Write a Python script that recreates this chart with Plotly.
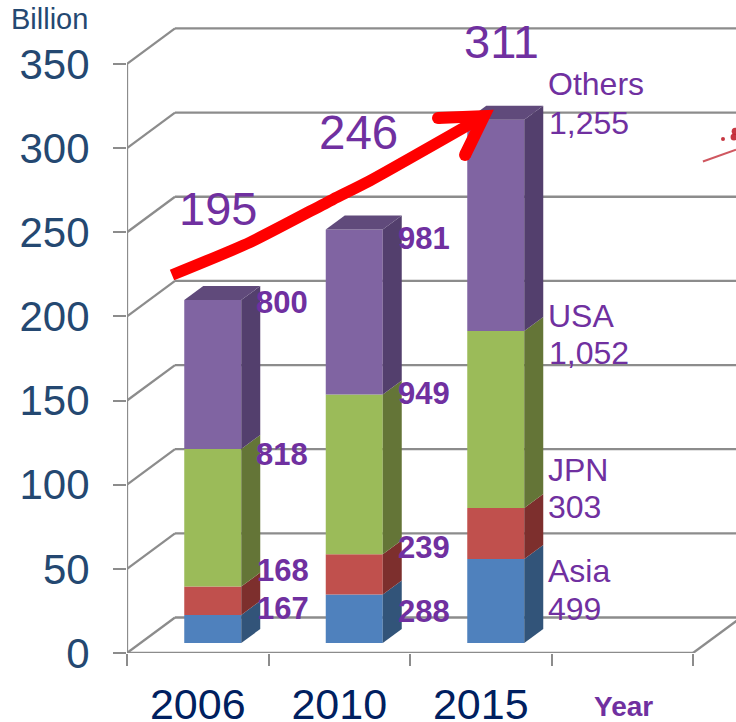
import plotly.graph_objects as go

# ---- data ----
years = ["2006", "2010", "2015"]
series_names = ["Asia", "JPN", "USA", "Others"]
asia = [16.7, 28.8, 49.9]
jpn = [16.8, 23.9, 30.3]
usa = [81.8, 94.9, 105.2]
others = [88.5, 98.1, 125.5]
totals = ["195", "246", "311"]
y_ticks = [0, 50, 100, 150, 200, 250, 300, 350]
front_colors = ["#4f81bd", "#c0504d", "#9bbb59", "#8064a2"]
side_colors = ["#325479", "#7d2f2d", "#647537", "#533f6d"]
top_color = "#604a7b"
# arrow, in axis units (slot, value)
arrow_x = [0.318, 0.869, 1.456, 1.703, 2.523]
arrow_y = [224.6, 244, 269.6, 280, 319]
head_x = [2.198, 2.523, 2.389]
head_y = [317.9, 319, 295.9]
tip_x = [2.587, 2.424, 2.48]
tip_y = [322.6, 321.5, 307.2]
# stray red smudge at the right edge
smudge_x = [4.07, 4.304]
smudge_y = [292, 299]
speck_x = [4.212, 4.29, 4.298]
speck_y = [305.4, 306.6, 310]

W, H = 736, 722
L, B = 127, 69
SLOT = 141.5
UNIT = 1.683
GRID = "#8c8c8c"
LW = 2.3
PURPLE = "#7030a0"
NAVY = "#244871"


def px(v):
    return v / SLOT


def py(v):
    return v / UNIT


wall_dx, wall_dy = px(48), py(35.5)
bar_dx, bar_dy = px(19), py(14)
bar_w = px(57)
centers = [i + 0.5 + px(15) for i in range(len(years))]
floor = py(10)

fig = go.Figure()
stack = [asia, jpn, usa, others]
bases = [floor] * len(years)
for s, vals in enumerate(stack):
    fig.add_trace(go.Bar(x=centers, y=vals, base=bases[:], width=bar_w,
                         marker=dict(color=front_colors[s], line=dict(width=0)),
                         hoverinfo="skip", name=series_names[s]))
    for i, c in enumerate(centers):
        xr = c + bar_w / 2
        b, t = bases[i], bases[i] + vals[i]
        fig.add_trace(go.Scatter(x=[xr, xr + bar_dx, xr + bar_dx, xr, xr],
                                 y=[b, b + bar_dy, t + bar_dy, t, b],
                                 mode="lines", fill="toself", fillcolor=side_colors[s],
                                 line=dict(width=0), hoverinfo="skip"))
        if s == len(stack) - 1:
            xl = c - bar_w / 2
            fig.add_trace(go.Scatter(x=[xl, xl + bar_dx, xr + bar_dx, xr, xl],
                                     y=[t, t + bar_dy, t + bar_dy, t, t],
                                     mode="lines", fill="toself", fillcolor=top_color,
                                     line=dict(width=0), hoverinfo="skip"))
    bases = [b + v for b, v in zip(bases, vals)]

# red growth arrow
RED = "#ff0000"
fig.add_trace(go.Scatter(x=arrow_x, y=arrow_y, mode="lines",
                         line=dict(color=RED, width=11.5, shape="spline", smoothing=0.6), hoverinfo="skip"))
fig.add_trace(go.Scatter(x=head_x, y=head_y, mode="lines+markers",
                         line=dict(color=RED, width=12),
                         marker=dict(color=RED, opacity=1, size=[12, 0, 12], line=dict(width=0)), hoverinfo="skip"))
fig.add_trace(go.Scatter(x=tip_x + tip_x[:1], y=tip_y + tip_y[:1], mode="lines", fill="toself",
                         fillcolor=RED, line=dict(width=0), hoverinfo="skip"))
fig.add_trace(go.Scatter(x=smudge_x, y=smudge_y, mode="lines", opacity=0.75,
                         line=dict(color="#c0202c", width=2), hoverinfo="skip"))
fig.add_trace(go.Scatter(x=speck_x, y=speck_y, mode="markers",
                         marker=dict(color="#c0202c", opacity=0.9, size=[4, 7, 7], line=dict(width=0)), hoverinfo="skip"))

# walls: gridlines in perspective
shapes = []
xmax = (W - L) / SLOT
for v in y_ticks:
    shapes.append(dict(type="line", layer="below", xref="x", yref="y", x0=0, y0=v,
                       x1=wall_dx, y1=v + wall_dy, line=dict(color=GRID, width=LW)))
    shapes.append(dict(type="line", layer="below", xref="x", yref="y", x0=wall_dx, y0=v + wall_dy,
                       x1=xmax, y1=v + wall_dy, line=dict(color=GRID, width=LW)))
shapes.append(dict(type="line", layer="below", xref="x", yref="y", x0=4, y0=0,
                   x1=4 + wall_dx, y1=wall_dy, line=dict(color=GRID, width=LW)))


def note(text, x, y, size, bold=False, color=PURPLE):
    return dict(text=f"<b>{text}</b>" if bold else text, x=(x - L) / (W - L), y=1 - y / (H - B),
                xref="paper", yref="paper", xanchor="left", yanchor="middle",
                showarrow=False, borderpad=0,
                font=dict(size=size, color=color, family="Liberation Sans"))


ann = [note("Billion", 10, 19, 29, color=NAVY),
       note(totals[0], 178, 208, 47), note(totals[1], 318, 132, 47.5), note(totals[2], 463, 42, 47),
       note("Others", 547, 84, 32), note("1,255", 548, 123, 32),
       note("USA", 547, 316, 32), note("1,052", 548, 353, 32),
       note("JPN", 547, 470, 32), note("303", 547, 507, 32),
       note("Asia", 547, 571, 32), note("499", 547, 609, 32),
       note("800", 255, 302, 31, True), note("818", 255, 454, 31, True),
       note("168", 256, 570, 31, True), note("167", 256, 608, 31, True),
       note("981", 397, 239, 31, True), note("949", 397, 393, 31, True),
       note("239", 397, 547, 31, True), note("288", 397, 611, 31, True),
       note("Year", 593, 706, 28, True)]

fig.update_layout(
    width=W, height=H, margin=dict(l=L, r=0, t=0, b=B, autoexpand=False), autosize=False,
    paper_bgcolor="white", plot_bgcolor="white", showlegend=False,
    barmode="overlay", shapes=shapes, annotations=ann,
    font=dict(family="Liberation Sans"),
    xaxis=dict(range=[0, xmax], tickmode="array", tickvals=[0.5, 1.5, 2.5], ticktext=years,
               ticks="", ticklen=0, showgrid=False, zeroline=False, automargin=False,
               showline=False, ticklabelstandoff=22,
               tickfont=dict(size=43, color="#002060", family="Liberation Sans"),
               minor=dict(tickmode="array", tickvals=[0, 1, 2, 3, 4], ticks="outside", ticklen=12,
                          tickwidth=2, tickcolor=GRID, showgrid=False)),
    yaxis=dict(range=[0, (H - B) / UNIT], tickmode="array", tickvals=y_ticks, automargin=False,
               ticks="outside", ticklen=13, tickwidth=2, tickcolor=GRID,
               showgrid=False, zeroline=False, showline=False, ticklabelstandoff=15,
               tickfont=dict(size=42, color=NAVY, family="Liberation Sans")),
)
fig.add_shape(type="line", layer="below", xref="x", yref="y", x0=0, x1=0, y0=0, y1=350,
              line=dict(color=GRID, width=LW))
fig.add_shape(type="line", layer="below", xref="x", yref="y", x0=0, x1=4, y0=0, y1=0,
              line=dict(color=GRID, width=LW))
fig.write_html("out.html", config=dict(displayModeBar=False),
               post_script="document.body.style.margin='0';document.documentElement.style.overflow='hidden';")
